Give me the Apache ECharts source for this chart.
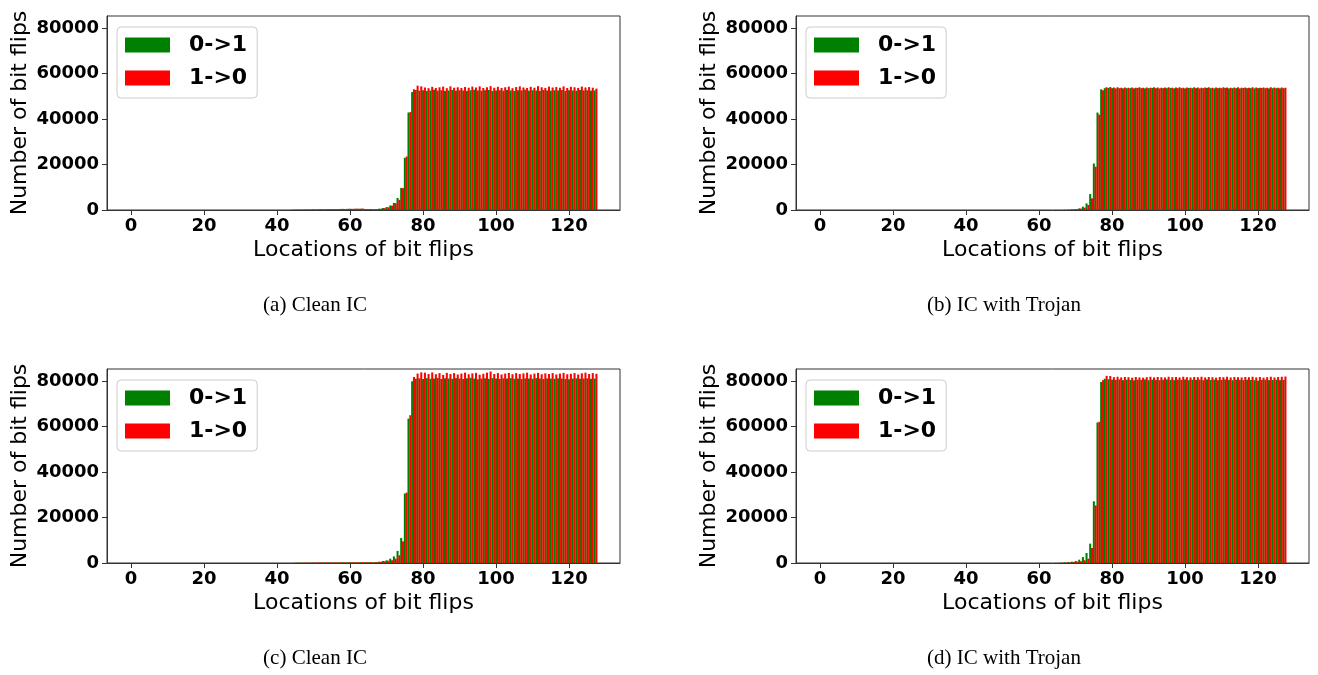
<!DOCTYPE html>
<html>
<head>
<meta charset="utf-8">
<script src="https://cdn.jsdelivr.net/npm/echarts@6/dist/echarts.min.js"></script>
<style>html,body{margin:0;padding:0;background:#fff;}#c{width:1318px;height:675px;}</style>
</head>
<body>
<div id="c"></div>
<script>
// ---- data ----
const locations = Array.from({length: 128}, (_, i) => i);
const xTicks = [0, 20, 40, 60, 80, 100, 120];
const yTicks = [0, 20000, 40000, 60000, 80000];
const seriesNames = ['0->1', '1->0'];
const captions = ['(a) Clean IC', '(b) IC with Trojan', '(c) Clean IC', '(d) IC with Trojan'];

// (a) Clean IC, top
const a01 = [
0,0,0,0,0,0,0,0,0,0, 0,0,0,0,0,0,0,0,0,0, 0,0,0,0,0,0,0,0,0,0, 0,0,0,0,0,0,0,0,0,0, 0,0,0,0,
120,150,200,180,250,220,300,280,350,320,400,380,450,420,500,480,550,520,600,580,450,400,
350,420,600,880,1300,2000,3100,5300,9700,22900,42800,51800,
52700,52400,52600,52300,52500,52800,52400,52600,52300,52500,52700,52400,52600,52500,52300,52600,52800,52500,52400,52600,
52700,52300,52500,52600,52400,52700,52500,52300,52600,52500,52800,52400,52600,52500,52300,52700,52500,52400,52600,52500,
52700,52300,52600,52500,52400,52700,52500,52600,52400,52500];
const a10 = [
0,0,0,0,0,0,0,0,0,0, 0,0,0,0,0,0,0,0,0,0, 0,0,0,0,0,0,0,0,0,0, 0,0,0,0,0,0,0,0,0,0, 0,0,0,0,
100,180,150,220,200,260,250,320,300,380,350,420,400,480,450,520,500,580,550,640,420,450,
300,380,550,820,1200,1900,3000,4500,9600,23500,43000,53000,
54600,54300,53800,53500,54100,53600,53900,54200,53500,54300,53700,53900,53600,54000,53700,54200,53800,54300,53600,53900,
54400,53700,54100,53600,53900,54200,53500,54000,54300,53800,53600,54100,53700,54400,53900,53600,54200,53800,54000,53700,
54300,53600,54100,53900,53600,54200,53800,54000,53700,53300];

// (b) IC with Trojan, top
const b01 = [
0,0,0,0,0,0,0,0,0,0, 0,0,0,0,0,0,0,0,0,0, 0,0,0,0,0,0,0,0,0,0, 0,0,0,0,0,0,0,0,0,0,
0,0,0,0,0,0,0,0,0,0, 0,0,0,0,0,0,0,0,0,0, 0,0,0,0,0,0,0,
80,150,290,440,730,1460,2900,7000,20400,42800,53000,
53500,53600,53500,53400,53500,53400,53500,53500,53400,53600,53500,53400,53500,53600,53500,53400,53500,53500,53600,53400,
53500,53500,53400,53600,53500,53500,53400,53500,53600,53500,53400,53500,53500,53600,53400,53500,53500,53400,53600,53500,
53500,53400,53500,53600,53500,53400,53500,53500,53400,53500];
const b10 = [
0,0,0,0,0,0,0,0,0,0, 0,0,0,0,0,0,0,0,0,0, 0,0,0,0,0,0,0,0,0,0, 0,0,0,0,0,0,0,0,0,0,
0,0,0,0,0,0,0,0,0,0, 0,0,0,0,0,0,0,0,0,0, 0,0,0,0,0,0,0,
50,100,220,380,600,1000,2200,5100,19000,41900,52600,
53900,54000,53800,53900,53700,53800,53700,53800,53700,53900,53700,53800,53700,53900,53800,53700,53800,53900,53700,53800,
53900,53700,53800,53700,53900,53800,53700,53800,53900,53700,53800,53700,53900,53800,53700,53800,53900,53700,53800,53700,
53900,53800,53700,53800,53700,53900,53800,53700,53800,53700];

// (c) Clean IC, bottom
const c01 = [
0,0,0,0,0,0,0,0,0,0, 0,0,0,0,0,0,0,0,0,0, 0,0,0,0,0,0,0,0,0,0, 0,0,0,0,0,0,0,0,0,0, 0,0,0,0,0,
100,150,120,180,150,200,170,220,190,250,200,260,230,280,250,300,270,320,290,340,300,
300,440,590,880,1200,1900,2900,5300,11000,30500,63400,79800,
80900,81100,80800,81200,80900,81000,81300,80800,81100,81000,80900,81200,81000,80800,81100,81300,81000,80700,81000,81100,
80900,81200,81000,80800,81100,81000,81200,80900,81000,80800,81100,81000,80900,81200,81000,80800,81100,81000,80900,81100,
81000,80800,80700,81000,81100,80900,81000,81100,80900,81000];
const c10 = [
0,0,0,0,0,0,0,0,0,0, 0,0,0,0,0,0,0,0,0,0, 0,0,0,0,0,0,0,0,0,0, 0,0,0,0,0,0,0,0,0,0, 0,0,0,0,0,
80,120,150,130,180,160,210,180,230,200,260,220,270,240,300,260,310,280,330,290,320,
250,380,520,750,1000,1200,1900,3400,9500,30900,64900,81700,
83200,83700,83600,83000,83700,82900,83400,82600,83500,83000,83400,82800,83200,83600,82900,83300,83500,82700,83100,83600,
84100,83000,83400,82800,83200,83500,82900,83400,83000,83300,83600,82800,83200,83500,82900,83300,83000,83400,82800,83200,
83500,82900,83100,83400,82800,83300,83600,83000,83400,83100];

// (d) IC with Trojan, bottom
const d01 = [
0,0,0,0,0,0,0,0,0,0, 0,0,0,0,0,0,0,0,0,0, 0,0,0,0,0,0,0,0,0,0, 0,0,0,0,0,0,0,0,0,0,
0,0,0,0,0,0,0,0,0,0, 0,0,0,0,0,0,0,0,0,0, 0,0,0,0,0,0,
150,290,440,590,880,1460,2600,4400,8500,27100,61700,79500,
80900,80700,80500,80400,80600,80300,80500,80400,80200,80500,80400,80600,80300,80500,80400,80300,80500,80600,80400,80300,
80500,80400,80600,80300,80500,80400,80500,80300,80600,80400,80500,80300,80400,80600,80400,80300,80500,80400,80300,80500,
80400,80300,80100,80400,80500,80300,80400,80500,80300,80400];
const d10 = [
0,0,0,0,0,0,0,0,0,0, 0,0,0,0,0,0,0,0,0,0, 0,0,0,0,0,0,0,0,0,0, 0,0,0,0,0,0,0,0,0,0,
0,0,0,0,0,0,0,0,0,0, 0,0,0,0,0,0,0,0,0,0, 0,0,0,0,0,0,
80,150,300,400,600,730,1200,1900,6600,25300,62000,80300,
82200,82100,81600,81800,81500,81700,81600,81400,81700,81500,81400,81600,81800,81500,81700,81600,81500,81800,81600,81700,
81500,81800,81600,81500,81700,81600,81800,81500,81700,81600,81400,81700,81600,81800,81500,81700,81600,81500,81700,81600,
81800,81500,81700,81400,81600,81800,81500,81700,81800,81900];

const panels = [[a01, a10], [b01, b10], [c01, c10], [d01, d10]];
panels.forEach((p, k) => p.forEach((arr, j) => {
  if (arr.length !== 128) throw new Error('panel ' + k + ' series ' + j + ' length ' + arr.length);
}));

// ---- layout / style ----
const GREEN = '#008000', RED = '#ff0000';
const gridPos = [
  {left: 107, top: 16}, {left: 796, top: 16},
  {left: 107, top: 369}, {left: 796, top: 369}
];
const legendPos = [
  {left: 117, top: 27}, {left: 806, top: 27},
  {left: 117, top: 380}, {left: 806, top: 380}
];
const captionPos = [[315, 305], [1004, 305], [315, 658], [1004, 658]];
const FONT = 'DejaVu Sans';
const AXC = '#333';
const BARW = 0.5;
const OVERLAP = 0.06;

function barRender(offset, color) {
  return function (params, api) {
    const x = api.value(0), y = api.value(1);
    if (!y) return null;
    const a = api.coord([x + offset - BARW / 2, y]);
    const b = api.coord([x + offset + BARW / 2 + OVERLAP, 0]);
    return {type: 'rect', shape: {x: a[0], y: a[1], width: b[0] - a[0], height: b[1] - a[1]},
            style: {fill: color}};
  };
}

const grids = [], xAxes = [], yAxes = [], series = [], legends = [], graphics = [];
panels.forEach((p, k) => {
  grids.push({left: gridPos[k].left, top: gridPos[k].top, width: 513, height: 194,
              show: true, borderColor: AXC, borderWidth: 1, backgroundColor: 'transparent'});
  xAxes.push({type: 'value', gridIndex: k, min: -6.59, max: 133.99,
    name: 'Locations of bit flips', nameLocation: 'middle', nameGap: 29, nameMoveOverlap: false,
    nameTextStyle: {fontFamily: FONT, fontSize: 22, color: '#000'},
    axisLine: {show: true, onZero: false, lineStyle: {color: AXC, width: 1}},
    axisTick: {show: true, length: 5, lineStyle: {color: AXC}, customValues: xTicks},
    axisLabel: {customValues: xTicks, formatter: v => String(v),
      fontFamily: FONT, fontWeight: 'bold', fontSize: 18, color: '#000', margin: 7},
    splitLine: {show: false}});
  yAxes.push({type: 'value', gridIndex: k, min: 0, max: 85200,
    name: 'Number of bit flips', nameLocation: 'middle', nameGap: 76, nameRotate: 90, nameMoveOverlap: false,
    nameTextStyle: {fontFamily: FONT, fontSize: 22, color: '#000'},
    axisLine: {show: true, onZero: false, lineStyle: {color: AXC, width: 1}},
    axisTick: {show: true, length: 5, lineStyle: {color: AXC}, customValues: yTicks},
    axisLabel: {customValues: yTicks, formatter: v => String(v),
      fontFamily: FONT, fontWeight: 'bold', fontSize: 18, color: '#000', margin: 8},
    splitLine: {show: false}});
  [GREEN, RED].forEach((col, j) => {
    series.push({type: 'custom', name: seriesNames[j], xAxisIndex: k, yAxisIndex: k,
      itemStyle: {color: col}, clip: true,
      encode: {x: 0, y: 1},
      data: locations.map((x, i) => [x, p[j][i]]),
      renderItem: barRender(j * BARW, col)});
  });
  legends.push({left: legendPos[k].left, top: legendPos[k].top, orient: 'vertical',
    data: seriesNames, icon: 'rect', itemWidth: 45, itemHeight: 15, itemGap: 11,
    selectedMode: false,
    padding: [7, 10, 9, 8],
    backgroundColor: 'rgba(255,255,255,0.8)', borderColor: '#cccccc', borderWidth: 1, borderRadius: 4,
    textStyle: {fontFamily: FONT, fontWeight: 'bold', fontSize: 22, lineHeight: 22, color: '#000', padding: [0, 0, 0, 14]}});
  graphics.push({type: 'text', x: captionPos[k][0], y: captionPos[k][1],
    style: {text: captions[k], textAlign: 'center', textVerticalAlign: 'middle',
            font: '21px "Liberation Serif"', fill: '#000'}});
});

const chart = echarts.init(document.getElementById('c'), null, {renderer: 'canvas'});
chart.setOption({
  animation: false,
  backgroundColor: '#fff',
  grid: grids, xAxis: xAxes, yAxis: yAxes, series: series, legend: legends,
  graphic: graphics
});
</script>
</body>
</html>
